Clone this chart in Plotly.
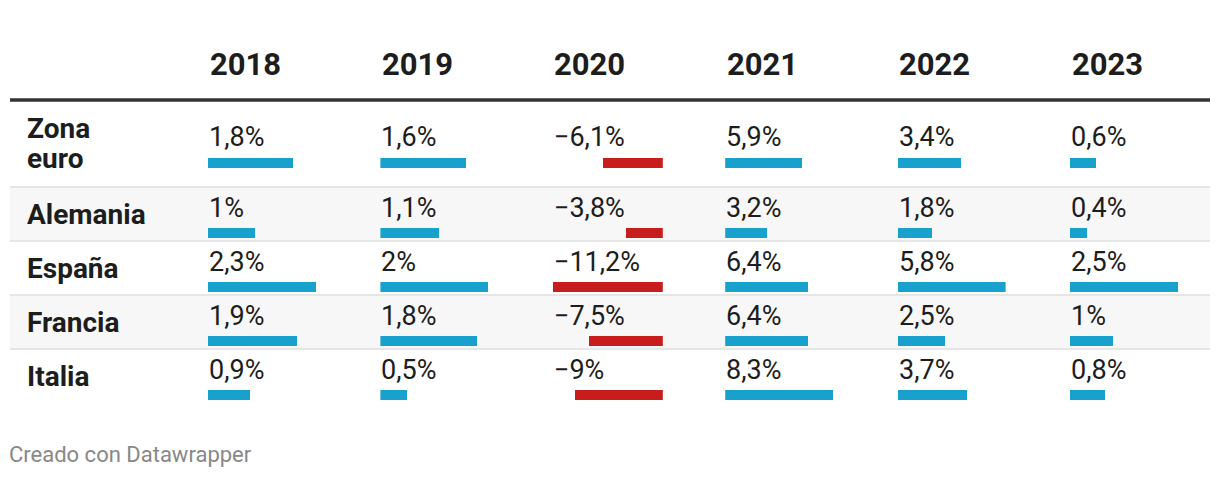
import plotly.graph_objects as go

# ---------------- data ----------------
years = ["2018", "2019", "2020", "2021", "2022", "2023"]
countries = ["Zona euro", "Alemania", "España", "Francia", "Italia"]
v2018 = [1.8, 1.0, 2.3, 1.9, 0.9]
v2019 = [1.6, 1.1, 2.0, 1.8, 0.5]
v2020 = [-6.1, -3.8, -11.2, -7.5, -9.0]
v2021 = [5.9, 3.2, 6.4, 6.4, 8.3]
v2022 = [3.4, 1.8, 5.8, 2.5, 3.7]
v2023 = [0.6, 0.4, 2.5, 1.0, 0.8]
columns = [v2018, v2019, v2020, v2021, v2022, v2023]
footer = "Creado con Datawrapper"

# ---------------- layout constants (pixels) ----------------
W, H = 1220, 478
FONT = "Roboto"
BLUE, RED = "#18a1cd", "#c71e1d"
TXT = "#1d1d1d"
TABLE_L, TABLE_R = 10, 1210
COL0, COL_STEP = 208, 172.4
HEADER_Y = 64
HEADER_LINE_Y = 100
ROW_TOP0 = 101
ROW_PITCH = [87, 54, 54, 54, 54]
BAR_THICK = 10


def fmt(v):
    s = ("%.1f" % abs(v)).rstrip("0").rstrip(".").replace(".", ",")
    return ("\u2212" if v < 0 else "") + s + "%"


# row geometry
row_tops, t = [], ROW_TOP0
for p in ROW_PITCH:
    row_tops.append(t)
    t += p
row_mids = [top + (p - 2) / 2 for top, p in zip(row_tops, ROW_PITCH)]

fig = go.Figure()
shapes, annotations = [], []

# header rule
shapes.append(dict(type="line", xref="paper", yref="y", x0=TABLE_L / W, x1=TABLE_R / W,
                   y0=HEADER_LINE_Y, y1=HEADER_LINE_Y, line=dict(color="#333333", width=3.5),
                   layer="below"))

for i, (top, p) in enumerate(zip(row_tops, ROW_PITCH)):
    if i % 2 == 1:
        shapes.append(dict(type="rect", xref="paper", yref="y", x0=TABLE_L / W, x1=TABLE_R / W,
                           y0=top, y1=top + p - 2, fillcolor="#f7f7f7", line_width=0, layer="below"))
    if i < len(ROW_PITCH) - 1:
        shapes.append(dict(type="line", xref="paper", yref="y", x0=TABLE_L / W, x1=TABLE_R / W,
                           y0=top + p - 1, y1=top + p - 1, line=dict(color="#e6e6e6", width=2),
                           layer="below"))

# row labels
for name, mid in zip(countries, row_mids):
    words = name.split(" ")
    n = len(words)
    for k, w in enumerate(words):
        annotations.append(dict(text="<b>%s</b>" % w, xref="paper", yref="y", x=24.5 / W,
                                y=mid + (k - (n - 1) / 2) * 29.5, xanchor="left", yanchor="middle",
                                showarrow=False, font=dict(family=FONT, size=28, color=TXT)))

# columns
for c, (yr, vals) in enumerate(zip(years, columns)):
    left = COL0 + c * COL_STEP
    lo, hi = min(0, min(vals)), max(0, max(vals))
    span = 110 if lo < 0 else 108
    ax = "xaxis" if c == 0 else "xaxis%d" % (c + 1)
    ref = "x" if c == 0 else "x%d" % (c + 1)
    fig.update_layout(**{ax: dict(domain=[left / W, (left + span) / W], range=[lo, hi],
                                  visible=False, fixedrange=True, anchor="y")})
    fig.add_trace(go.Bar(
        orientation="h", x=vals, y=[m + 19 for m in row_mids], width=BAR_THICK,
        marker=dict(color=[RED if v < 0 else BLUE for v in vals], line_width=0),
        xaxis=ref, yaxis="y", hoverinfo="skip", showlegend=False))
    annotations.append(dict(text="<b>%s</b>" % yr, xref="paper", yref="y", x=(left - 0.5) / W,
                            y=HEADER_Y, xanchor="left", yanchor="middle", showarrow=False,
                            font=dict(family=FONT, size=31, color=TXT)))
    for v, mid in zip(vals, row_mids):
        annotations.append(dict(text=fmt(v), xref="paper", yref="y", x=(left - 1) / W,
                                y=mid - 6.5, xanchor="left", yanchor="middle", showarrow=False,
                                font=dict(family=FONT, size=27, color=TXT)))

annotations.append(dict(text=footer, xref="paper", yref="y", x=7 / W, y=454,
                        xanchor="left", yanchor="middle", showarrow=False,
                        font=dict(family=FONT, size=22, color="#888888")))

fig.update_layout(
    width=W, height=H, margin=dict(l=0, r=0, t=0, b=0),
    paper_bgcolor="white", plot_bgcolor="white",
    yaxis=dict(range=[H, 0], domain=[0, 1], visible=False, fixedrange=True),
    barmode="overlay", bargap=0,
    shapes=shapes, annotations=annotations,
    font=dict(family=FONT),
)

fig.write_html("out.html", config={"displayModeBar": False},
               post_script="document.body.style.margin='0';document.body.style.overflow='hidden';")
